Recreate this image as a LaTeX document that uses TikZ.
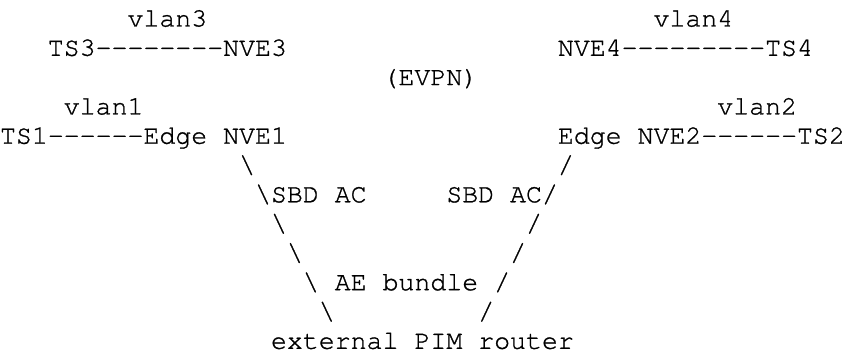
\documentclass[tikz,border=0pt]{standalone}
\usepackage{fontspec}
\setmonofont{texgyrecursor-regular.otf}[FakeBold=1]
\begin{document}
\begin{tikzpicture}[x=1pt,y=-1pt,
  txt/.style={anchor=base west, inner sep=0pt, outer sep=0pt,
    font=\ttfamily\fontsize{26.57pt}{29pt}\selectfont, text=black}]
\def\cw{15.94}
\def\lh{29.3}
\def\bz{26.5}
\useasboundingbox (0,0) rectangle (845,353);
\newcommand\At[4]{\node[txt] (#1) at ({#2*\cw},{\bz+(#3-1)*\lh}) {#4};}
% line 1
\At{vlanthree}{8}{1}{vlan3}
\At{vlanfour}{41}{1}{vlan4}
% line 2
\At{tsthree}{3}{2}{TS3-{}-{}-{}-{}-{}-{}-{}-NVE3}
\At{nvefour}{35}{2}{NVE4-{}-{}-{}-{}-{}-{}-{}-{}-TS4}
% line 3
\At{evpn}{24}{3}{(EVPN)}
% line 4
\At{vlanone}{4}{4}{vlan1}
\At{vlantwo}{45}{4}{vlan2}
% line 5
\At{tsone}{0}{5}{TS1-{}-{}-{}-{}-{}-Edge NVE1}
\At{nvetwo}{35}{5}{Edge NVE2-{}-{}-{}-{}-{}-TS2}
% line 6
\At{la}{15}{6}{\textbackslash}
\At{ra}{35}{6}{/}
% line 7
\At{sbdl}{16}{7}{\textbackslash SBD AC}
\At{sbdr}{28}{7}{SBD AC/}
% line 8
\At{lb}{17}{8}{\textbackslash}
\At{rb}{33}{8}{/}
% line 9
\At{lc}{18}{9}{\textbackslash}
\At{rc}{32}{9}{/}
% line 10
\At{ld}{19}{10}{\textbackslash}
\At{ae}{21}{10}{AE bundle}
\At{rd}{31}{10}{/}
% line 11
\At{le}{20}{11}{\textbackslash}
\At{re}{30}{11}{/}
% line 12
\At{pim}{17}{12}{external PIM router}
\end{tikzpicture}
\end{document}
